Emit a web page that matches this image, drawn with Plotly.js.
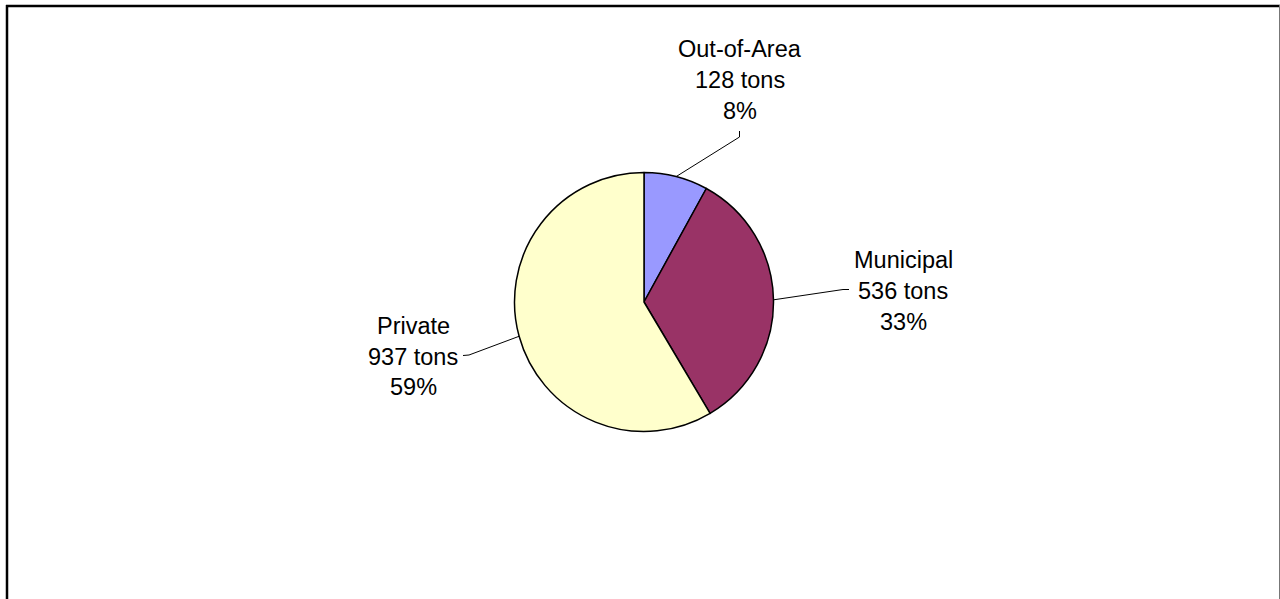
<!DOCTYPE html>
<html>
<head>
<meta charset="utf-8">
<script src="https://cdn.plot.ly/plotly-3.0.1.min.js"></script>
<style>html,body{margin:0;padding:0;background:#fff;}#chart{width:1280px;height:599px;}</style>
</head>
<body>
<div id="chart"></div>
<script>
const categories = ["Out-of-Area", "Municipal", "Private"];
const tons = [128, 536, 937];
const colors = ["#9999FF", "#993366", "#FFFFCC"];

const W = 1280, H = 599;
const cx = 644, cy = 302, R = 129.5;
const px = x => x / W;
const py = y => 1 - y / H;

// label block centres and leader-line elbow points (layout only)
const labelPos = [
  {x: 740, y: [49, 80, 111], elbow: [[739.5, 137], [739.5, 131]]},
  {x: 903, y: [260, 291, 322], elbow: [[843, 289.5], [849, 289.5]]},
  {x: 413, y: [326, 357, 387], elbow: [[469, 355], [463, 355.5]]}
];

const total = tons.reduce((a, b) => a + b, 0);
const annotations = [];
const shapes = [];
let cum = 0;
categories.forEach((c, i) => {
  const frac = tons[i] / total;
  const mid = (cum + frac / 2) * 2 * Math.PI;
  cum += frac;
  const sx = cx + R * Math.sin(mid), sy = cy - R * Math.cos(mid);
  const lines = [c, tons[i] + " tons", Math.round(frac * 100) + "%"];
  lines.forEach((t, k) => annotations.push({
    text: t, showarrow: false, xref: "paper", yref: "paper",
    x: px(labelPos[i].x), y: py(labelPos[i].y[k]),
    xanchor: "center", yanchor: "middle",
    font: {family: "Liberation Sans, Arial, sans-serif", size: 23.5, color: "#000"}
  }));
  const pts = [[sx, sy]].concat(labelPos[i].elbow);
  let path = "M " + pts.map(p => px(p[0]) + "," + py(p[1])).join(" L ");
  shapes.push({type: "path", xref: "paper", yref: "paper", path: path,
    line: {color: "#000", width: 1}});
});

// chart frame
shapes.push({type: "line", xref: "paper", yref: "paper", x0: px(6), x1: px(1280), y0: py(6), y1: py(6), line: {color: "#000", width: 2.5}});
shapes.push({type: "line", xref: "paper", yref: "paper", x0: px(7), x1: px(7), y0: py(5), y1: py(600), line: {color: "#000", width: 2.5}});
shapes.push({type: "line", xref: "paper", yref: "paper", x0: px(1279.5), x1: px(1279.5), y0: py(5), y1: py(600), line: {color: "#777", width: 1}});

const data = [{
  type: "pie",
  labels: categories,
  values: tons,
  sort: false,
  direction: "clockwise",
  rotation: 0,
  textinfo: "none",
  hoverinfo: "label+value+percent",
  marker: {colors: colors, line: {color: "#000", width: 1.5}},
  domain: {x: [px(cx - R), px(cx + R)], y: [py(cy + R), py(cy - R)]},
  showlegend: false
}];

const layout = {
  width: W, height: H,
  margin: {l: 0, r: 0, t: 0, b: 0},
  paper_bgcolor: "#fff",
  showlegend: false,
  annotations: annotations,
  shapes: shapes
};

Plotly.newPlot("chart", data, layout, {displayModeBar: false, staticPlot: true});
</script>
</body>
</html>
